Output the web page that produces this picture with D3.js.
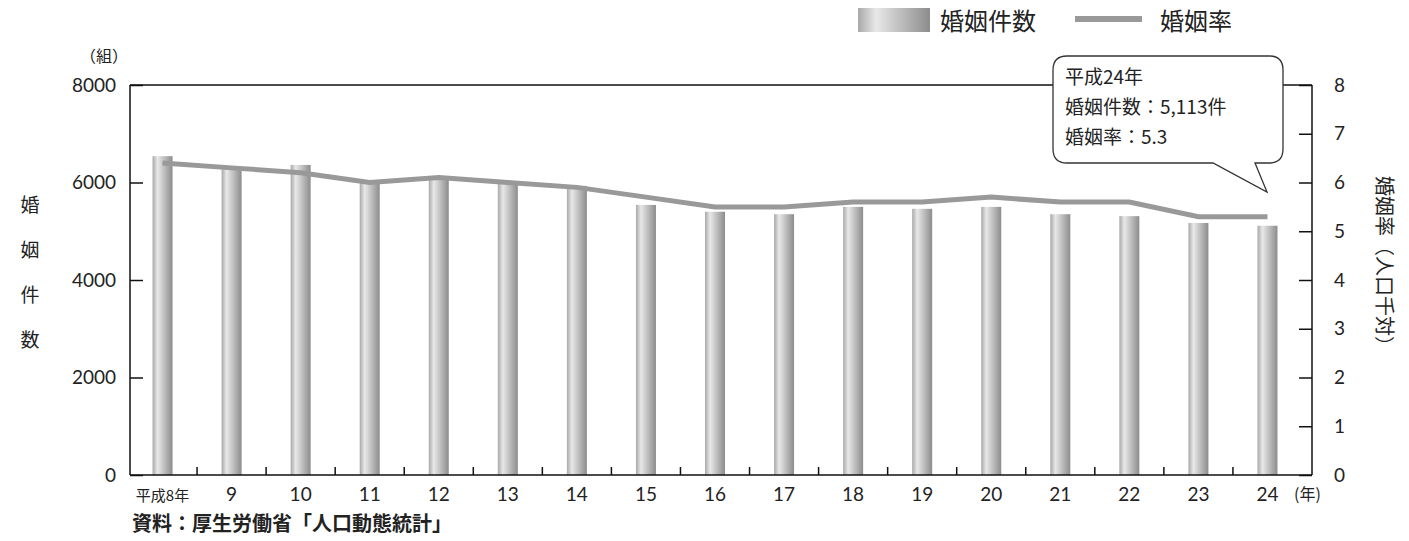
<!DOCTYPE html>
<html><head><meta charset="utf-8">
<script src="https://cdn.jsdelivr.net/npm/d3@7"></script>
<style>body{margin:0;background:#fff}text{font-family:"Noto Sans CJK JP","Noto Sans",sans-serif;fill:#222}</style>
</head><body><svg id="c" width="1409" height="541"></svg>
<script>
const categories=["平成8年","9","10","11","12","13","14","15","16","17","18","19","20","21","22","23","24"];
const marriages=[6540,6300,6360,6010,6090,6030,5930,5540,5400,5350,5500,5460,5500,5350,5310,5170,5113];
const rates=[6.4,6.3,6.2,6.0,6.1,6.0,5.9,5.7,5.5,5.5,5.6,5.6,5.7,5.6,5.6,5.3,5.3];
const leftTicks=[0,2000,4000,6000,8000];
const rightTicks=[0,1,2,3,4,5,6,7,8];

const svg=d3.select("#c");
const L=130,R=1312,T=85,B=475;
const x=d3.scaleBand().domain(categories).range([L-2,R-10]);
const y=d3.scaleLinear().domain([0,8000]).range([B,T]);
const y2=d3.scaleLinear().domain([0,8]).range([B,T]);

const g=svg.append("defs").append("linearGradient").attr("id","bg");
[["0%","#a8a8a8"],["25%","#e8e8e8"],["60%","#bdbdbd"],["100%","#8c8c8c"]].forEach(s=>g.append("stop").attr("offset",s[0]).attr("stop-color",s[1]));

const line=(x1,y1,x2,y2)=>svg.append("line").attr("x1",x1).attr("x2",x2).attr("y1",y1).attr("y2",y2).attr("stroke","#111").attr("stroke-width",1.5);
line(L,T,R,T);line(L,T,L,B);line(R,T,R,B);

const bw=20;
svg.selectAll(".bar").data(marriages).join("rect")
 .attr("x",(d,i)=>x(categories[i])+x.bandwidth()/2-bw/2).attr("width",bw)
 .attr("y",d=>y(d)).attr("height",d=>B-y(d)).attr("fill","url(#bg)");

svg.append("path").datum(rates).attr("fill","none").attr("stroke","#999").attr("stroke-width",5)
 .attr("d",d3.line().x((d,i)=>x(categories[i])+x.bandwidth()/2).y(d=>y2(d)));

const la=svg.append("g").attr("transform",`translate(${L},0)`).call(d3.axisLeft(y).tickValues(leftTicks).tickFormat(d3.format("d")).tickSize(-13).tickPadding(14));
la.select(".domain").remove();
la.selectAll("line").attr("stroke","#111").attr("stroke-width",1.5);
la.selectAll("text").attr("font-size",19).style("font-family","Lato,'Noto Sans',sans-serif").attr("fill","#333");
const ra=svg.append("g").attr("transform",`translate(${R},0)`).call(d3.axisRight(y2).tickValues(rightTicks).tickSize(-13).tickPadding(22));
ra.select(".domain").remove();
ra.selectAll("line").attr("stroke","#111").attr("stroke-width",1.5);
ra.selectAll("text").attr("font-size",19).style("font-family","Lato,'Noto Sans',sans-serif").attr("fill","#333");
line(L,B,R,B);
svg.selectAll(".bt").data(categories.slice(1)).join("line")
 .attr("x1",d=>x(d)).attr("x2",d=>x(d)).attr("y1",B).attr("y2",B-8).attr("stroke","#111").attr("stroke-width",1.5);
svg.selectAll(".bl").data(categories).join("text")
 .attr("x",d=>x(d)+x.bandwidth()/2).attr("y",B+26).attr("text-anchor","middle")
 .style("font-size",(d,i)=>i==0?"15px":"19px").style("font-family",(d,i)=>i==0?null:"Lato,'Noto Sans',sans-serif").text(d=>d);
svg.append("text").attr("x",1294).attr("y",B+25).style("font-size","16px").text("(年)");

svg.append("text").attr("x",80).attr("y",62).style("font-size","16px").text("（組）");
["婚","姻","件","数"].forEach((c,i)=>svg.append("text").attr("x",30).attr("y",212+i*45).attr("text-anchor","middle").style("font-size","19px").text(c));
svg.append("text").attr("transform","translate(1377,176) rotate(90)").style("font-size","20px").text("婚姻率（人口千対）");
svg.append("text").attr("x",132).attr("y",531).style("font-size","20px").style("font-weight","bold").attr("fill","#333").text("資料：厚生労働省「人口動態統計」");

svg.append("rect").attr("x",858).attr("y",8).attr("width",72).attr("height",24).attr("fill","url(#bg)");
svg.append("text").attr("x",940).attr("y",30).style("font-size","24px").text("婚姻件数");
svg.append("line").attr("x1",1075).attr("x2",1142).attr("y1",19).attr("y2",19).attr("stroke","#999").attr("stroke-width",6);
svg.append("text").attr("x",1160).attr("y",30).style("font-size","24px").text("婚姻率");

const cx=1053,cy=56,cw=230,ch=107,r=14;
const tip=[1267,192];
const p=`M${cx+r},${cy} H${cx+cw-r} Q${cx+cw},${cy} ${cx+cw},${cy+r} V${cy+ch-r} Q${cx+cw},${cy+ch} ${cx+cw-r},${cy+ch} H${cx+202} L${tip[0]},${tip[1]} L${cx+160},${cy+ch} H${cx+r} Q${cx},${cy+ch} ${cx},${cy+ch-r} V${cy+r} Q${cx},${cy} ${cx+r},${cy} Z`;
svg.append("path").attr("d",p).attr("fill","#fff").attr("stroke","#333").attr("stroke-width",1.3);
["平成24年","婚姻件数：5,113件","婚姻率：5.3"].forEach((t,i)=>svg.append("text").attr("x",cx+12).attr("y",cy+28+i*30).style("font-size","19px").text(t));
</script></body></html>
